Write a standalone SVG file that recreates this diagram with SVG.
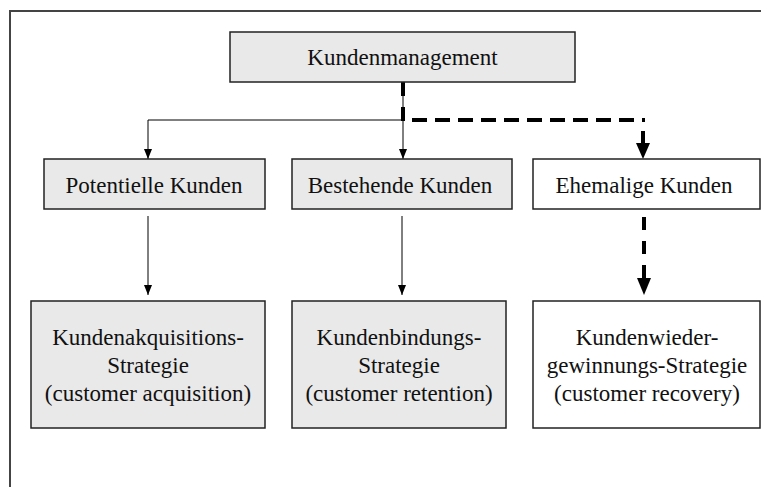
<svg xmlns="http://www.w3.org/2000/svg" width="761" height="487" viewBox="0 0 761 487">
<defs>
<style>
.box{stroke:#222;stroke-width:1.5}
.g{fill:#e9e9e9}
.w{fill:#fff}
text{font-family:"Liberation Serif","Times New Roman",serif;font-size:23px;fill:#111;text-anchor:middle}
.thin{stroke:#000;stroke-width:1;fill:none}
.thick{stroke:#000;stroke-width:4;fill:none}
</style>
<marker id="ah" markerUnits="userSpaceOnUse" markerWidth="10" markerHeight="8" refX="10" refY="4" orient="auto">
<path d="M0,0 L10,4 L0,8 z" fill="#000"/>
</marker>
</defs>
<rect width="761" height="487" fill="#fff"/>
<path d="M10 487 V11 H761" fill="none" stroke="#444" stroke-width="2"/>
<g id="connectors">
<path class="thin" d="M403 82 V120 H148 V159" marker-end="url(#ah)"/>
<path class="thin" d="M403 120 V159" marker-end="url(#ah)"/>
<path class="thin" d="M148 216 V295" marker-end="url(#ah)"/>
<path class="thin" d="M402 216 V295" marker-end="url(#ah)"/>
<path class="thick" d="M403 82 V121" stroke-dasharray="14 11"/>
<path class="thick" d="M412 120 H645" stroke-dasharray="15 8"/>
<path class="thick" d="M643 131 V146"/>
<polygon points="636,143 650,143 643,159" fill="#000"/>
<path class="thick" d="M644 217 V280" stroke-dasharray="13 11"/>
<polygon points="637,278 651,278 644,295" fill="#000"/>
</g>
<g id="n-kundenmanagement">
<rect class="box g" x="230" y="32" width="345" height="50"/>
<text x="402.5" y="65">Kundenmanagement</text>
</g>
<g id="n-potentielle">
<rect class="box g" x="44" y="159" width="221" height="50"/>
<text x="154" y="193">Potentielle Kunden</text>
</g>
<g id="n-bestehende">
<rect class="box g" x="292" y="159" width="220" height="50"/>
<text x="400" y="193">Bestehende Kunden</text>
</g>
<g id="n-ehemalige">
<rect class="box w" x="533" y="159" width="227" height="50"/>
<text x="644" y="193">Ehemalige Kunden</text>
</g>
<g id="n-akquisition">
<rect class="box g" x="31" y="301" width="234" height="127"/>
<text x="148" y="345">Kundenakquisitions-</text>
<text x="148" y="373">Strategie</text>
<text x="148" y="401">(customer acquisition)</text>
</g>
<g id="n-bindung">
<rect class="box g" x="292" y="301" width="214" height="127"/>
<text x="399" y="345">Kundenbindungs-</text>
<text x="399" y="373">Strategie</text>
<text x="399" y="401">(customer retention)</text>
</g>
<g id="n-wiedergewinnung">
<rect class="box w" x="533" y="301" width="227" height="127"/>
<text x="647" y="345">Kundenwieder-</text>
<text x="647" y="373">gewinnungs-Strategie</text>
<text x="647" y="401">(customer recovery)</text>
</g>
</svg>
